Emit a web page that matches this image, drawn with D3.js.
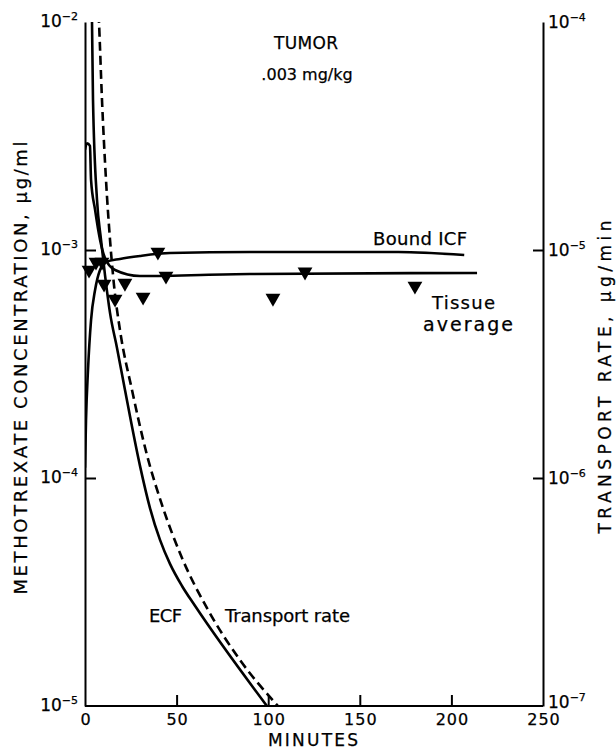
<!DOCTYPE html>
<meta charset="utf-8">
<style>
body { margin: 0; background: #fff; }
svg { display: block; font-family: "DejaVu Sans", sans-serif; }
text { fill: #000; stroke: #000; stroke-width: 0.25px; }
.curve { fill: none; stroke: #000; stroke-width: 2.6px; }
.dash { stroke-dasharray: 9, 5; }
.axis path, .axis line { stroke: #000; stroke-width: 2px; }
.lbl { font-size: 18px; }
</style>
<body>
<svg width="616" height="749"></svg>
<script src="https://d3js.org/d3.v7.min.js"></script>
<script>
// minutes / concentration (ug/ml)
var ecfT = [3.55, 3.82, 4.37, 6.55, 8.73, 10.92, 13.65, 17.47, 21.83, 30.02, 35.48, 40.94, 46.4, 52.95, 60.04, 99.3];
var ecfV = [1.25e-2, 1.0e-2, 4.55e-3, 1.66e-3, 1.11e-3, 7.76e-4, 5.30e-4, 3.72e-4, 2.43e-4, 1.13e-4, 7.38e-5, 5.35e-5, 4.20e-5, 3.36e-5, 2.75e-5, 1.0e-5];

// transport rate, ug/min (right axis)
var transT = [7.1, 7.64, 9.28, 11.46, 13.65, 15.83, 19.1, 25.66, 33.84, 42.03, 52.95, 67.14, 84.61, 105.35];
var transV = [1.25e-4, 1.0e-4, 4.55e-5, 2.03e-5, 1.11e-5, 7.02e-6, 4.45e-6, 2.43e-6, 1.26e-6, 7.62e-7, 4.46e-7, 2.64e-7, 1.59e-7, 1.0e-7];

var tissueT = [0, 1.1, 2.7, 3.3, 5.5, 8.2, 10.9, 16.4, 30, 90, 214];
var tissueV = [2.75e-3, 2.94e-3, 2.86e-3, 2.03e-3, 1.50e-3, 1.11e-3, 9.23e-4, 8.17e-4, 7.69e-4, 7.85e-4, 7.93e-4];

var boundT = [0, 0.55, 1.64, 3.3, 5.5, 8.2, 11.5, 19.1, 30, 46.4, 90, 171, 207];
var boundV = [1.11e-4, 1.79e-4, 2.98e-4, 4.93e-4, 6.68e-4, 8.17e-4, 8.86e-4, 9.14e-4, 9.42e-4, 9.70e-4, 9.80e-4, 9.80e-4, 9.50e-4];

// measured tissue average
var obsT = [2.2, 6.0, 9.3, 10.4, 16.4, 21.8, 31.7, 39.8, 44.2, 102.6, 120.1, 180.1];
var obsV = [8.17e-4, 8.86e-4, 8.86e-4, 7.10e-4, 6.10e-4, 7.16e-4, 6.22e-4, 9.80e-4, 7.69e-4, 6.15e-4, 8.02e-4, 6.95e-4];

var xTicks = [0, 50, 100, 150, 200, 250];
var yLeftTicks = [1e-2, 1e-3, 1e-4, 1e-5];
var yRightTicks = [1e-4, 1e-5, 1e-6, 1e-7];

var svg = d3.select("svg");
var x0 = 85, x1 = 543, yTop = 22, yBot = 706;

var x = d3.scaleLinear().domain([0, 250]).range([x0, x1]);
var yL = d3.scaleLog().domain([1e-5, 1e-2]).range([yBot, yTop]);
var yR = d3.scaleLog().domain([1e-7, 1e-4]).range([yBot, yTop]);

svg.append("clipPath").attr("id", "clip")
    .append("rect").attr("x", x0).attr("y", yTop).attr("width", x1 - x0).attr("height", yBot - yTop);

// axes, ticks inward
svg.append("g").attr("class", "axis")
    .attr("transform", "translate(0," + yBot + ")")
    .call(d3.axisBottom(x).tickValues([50, 100, 150, 200]).tickSizeInner(-11).tickSizeOuter(0).tickFormat(""))
    .select(".domain").attr("d", "M" + x0 + ",0H" + x1);

svg.append("g").attr("class", "axis")
    .attr("transform", "translate(" + x0 + ",0)")
    .call(d3.axisLeft(yL).tickValues([1e-3, 1e-4]).tickSizeInner(-11).tickSizeOuter(0).tickFormat(""));

svg.append("g").attr("class", "axis")
    .attr("transform", "translate(" + x1 + ",0)")
    .call(d3.axisRight(yR).tickValues([1e-5, 1e-6]).tickSizeInner(-10).tickSizeOuter(0).tickFormat(""));

// tick labels
svg.append("g").selectAll("text").data(xTicks).enter().append("text")
    .attr("x", function(d) { return x(d) + 1; })
    .attr("y", 725)
    .attr("text-anchor", "middle")
    .style("font-size", "16px")
    .style("letter-spacing", "1px")
    .text(function(d) { return d; });

function powLabel(sel, exp) {
    sel.append("tspan").text("10");
    sel.append("tspan").attr("dy", -7).style("font-size", "11px").text("\u2212" + exp);
}

svg.append("g").selectAll("text").data(yLeftTicks).enter().append("text")
    .attr("x", 78)
    .attr("y", function(d) { return yL(d) + 5; })
    .attr("text-anchor", "end")
    .style("font-size", "17px")
    .each(function(d) { powLabel(d3.select(this), -Math.round(Math.log10(d))); });

svg.append("g").selectAll("text").data(yRightTicks).enter().append("text")
    .attr("x", 548)
    .attr("y", function(d) { return yR(d) + (d === 1e-7 ? 2 : 6); })
    .style("font-size", "17px")
    .each(function(d) { powLabel(d3.select(this), -Math.round(Math.log10(d))); });

// curves
var plot = svg.append("g").attr("clip-path", "url(#clip)");

function drawLine(ts, vs, y, cls) {
    var pts = ts.map(function(t, i) { return [x(t), y(vs[i])]; });
    plot.append("path")
        .attr("class", cls)
        .attr("d", d3.line().curve(d3.curveMonotoneX)(pts));
}
drawLine(tissueT, tissueV, yL, "curve");
drawLine(boundT, boundV, yL, "curve");
drawLine(ecfT, ecfV, yL, "curve");
drawLine(transT, transV, yR, "curve dash");

svg.append("g").selectAll("path").data(obsT).enter().append("path")
    .attr("d", d3.symbol(d3.symbolTriangle, 95))
    .attr("transform", function(d, i) { return "translate(" + x(d) + "," + yL(obsV[i]) + ") rotate(180)"; })
    .attr("fill", "#000");

// labels
function label(txt, px, py, len, anchor) {
    var t = svg.append("text").attr("class", "lbl")
        .attr("x", px).attr("y", py)
        .attr("text-anchor", anchor || "start")
        .text(txt);
    if (len) t.attr("textLength", len).attr("lengthAdjust", "spacing");
    return t;
}
label("TUMOR", 306, 49, 64, "middle").style("font-size", "17px");
label(".003 mg/kg", 307, 80, null, "middle").style("font-size", "16px");
label("Bound ICF", 373, 245, 94);
label("Tissue", 432, 309, 63);
label("average", 423, 331, 90).style("font-size", "19px");
label("ECF", 149, 622, 33);
label("Transport rate", 225, 622, 125);
label("MINUTES", 313, 746, 90, "middle").style("font-size", "17px");

svg.append("text").attr("class", "lbl")
    .attr("transform", "translate(27,368) rotate(-90)")
    .attr("text-anchor", "middle")
    .attr("textLength", 453)
    .attr("lengthAdjust", "spacing")
    .text("METHOTREXATE CONCENTRATION, \u03bcg/ml");

svg.append("text").attr("class", "lbl")
    .attr("transform", "translate(611,377) rotate(-90)")
    .attr("text-anchor", "middle")
    .attr("textLength", 313)
    .attr("lengthAdjust", "spacing")
    .style("font-size", "17px")
    .text("TRANSPORT RATE, \u03bcg/min");
</script>
</body>
